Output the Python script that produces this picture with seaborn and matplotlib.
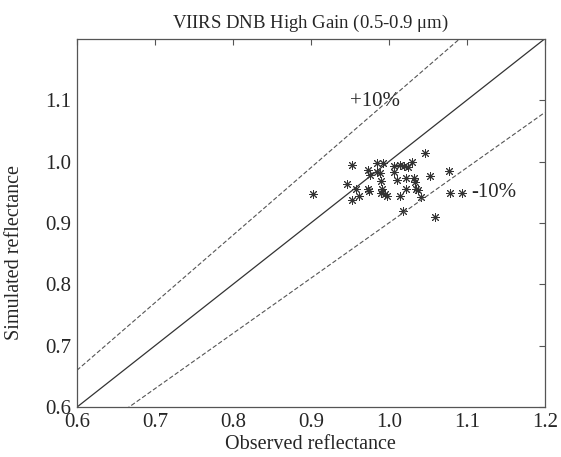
import numpy as np
import pandas as pd
import seaborn as sns
import matplotlib.pyplot as plt

# observed vs simulated reflectance
observed = [0.903, 0.953, 0.946, 0.958, 0.953, 0.962, 0.973, 0.976, 0.974, 0.975,
            0.985, 0.992, 0.985, 0.989, 0.990, 0.991, 0.990, 0.995, 0.998, 1.007,
            1.007, 1.014, 1.020, 1.025, 1.030, 1.011, 1.022, 1.032, 1.034, 1.022,
            1.035, 1.038, 1.015, 1.041, 1.018, 1.047, 1.053, 1.077, 1.079, 1.094,
            1.059]
simulated = [0.947, 0.994, 0.964, 0.955, 0.938, 0.944, 0.986, 0.979, 0.956, 0.952,
             0.998, 0.998, 0.983, 0.982, 0.968, 0.956, 0.949, 0.948, 0.944, 0.993,
             0.983, 0.994, 0.993, 0.991, 1.000, 0.970, 0.974, 0.974, 0.967, 0.956,
             0.956, 0.954, 0.944, 0.942, 0.920, 1.014, 0.976, 0.985, 0.949, 0.949,
             0.909]

line_x = [0.6, 1.2]
ticks = [0.6, 0.7, 0.8, 0.9, 1.0, 1.1, 1.2]

df = pd.DataFrame({'Observed': observed, 'Simulated': simulated})
ref = pd.DataFrame({'x': line_x})

sns.set_style("white")
plt.rcParams['font.family'] = ['Liberation Serif', 'DejaVu Serif']
plt.rcParams['mathtext.fontset'] = 'stix'

fig = plt.figure(figsize=(5.61, 4.57), dpi=100)
ax = fig.add_axes([0.137, 0.109, 0.834, 0.806])

# 1:1 line and +/-10% lines
sns.lineplot(x=ref['x'], y=ref['x'], ax=ax, color='#333333', linewidth=0.9)
sns.lineplot(x=ref['x'], y=ref['x'] * 1.1, ax=ax, color='#555555',
             linewidth=0.8, linestyle=(0, (4, 2)))
sns.lineplot(x=ref['x'], y=ref['x'] * 0.9, ax=ax, color='#555555',
             linewidth=0.8, linestyle=(0, (4, 2)))

sns.scatterplot(data=df, x='Observed', y='Simulated', ax=ax, marker=(8, 2, 0),
                s=34, color='#333333', linewidth=0.7, edgecolor='#333333')

ax.text(0.950, 1.0975, '+10%', fontsize=15, va='center', ha='left')
ax.text(1.106, 0.950, '-10%', fontsize=15, va='center', ha='left')

ax.set_xlim(0.6, 1.2)
ax.set_ylim(0.6, 1.2)
ax.set_xticks(ticks)
ax.set_yticks(ticks[:-1])
ax.set_xticklabels(['%.1f' % t for t in ticks])
ax.set_yticklabels(['%.1f' % t for t in ticks[:-1]])
ax.tick_params(direction='in', top=True, right=True, length=4, width=0.8,
               color='#555555', labelsize=15, pad=4)
for sp in ax.spines.values():
    sp.set_color('#555555')
    sp.set_linewidth(0.9)

ax.set_xlabel('Observed reflectance', fontsize=14.5, labelpad=2)
ax.set_ylabel('Simulated reflectance', fontsize=14.5)
ax.yaxis.set_label_coords(-0.112, 0.42)
ax.set_title('VIIRS DNB High Gain (0.5-0.9 $\\mathregular{\\mu}$m)', fontsize=13.5, pad=8)

fig.savefig('out.png', dpi=100)
